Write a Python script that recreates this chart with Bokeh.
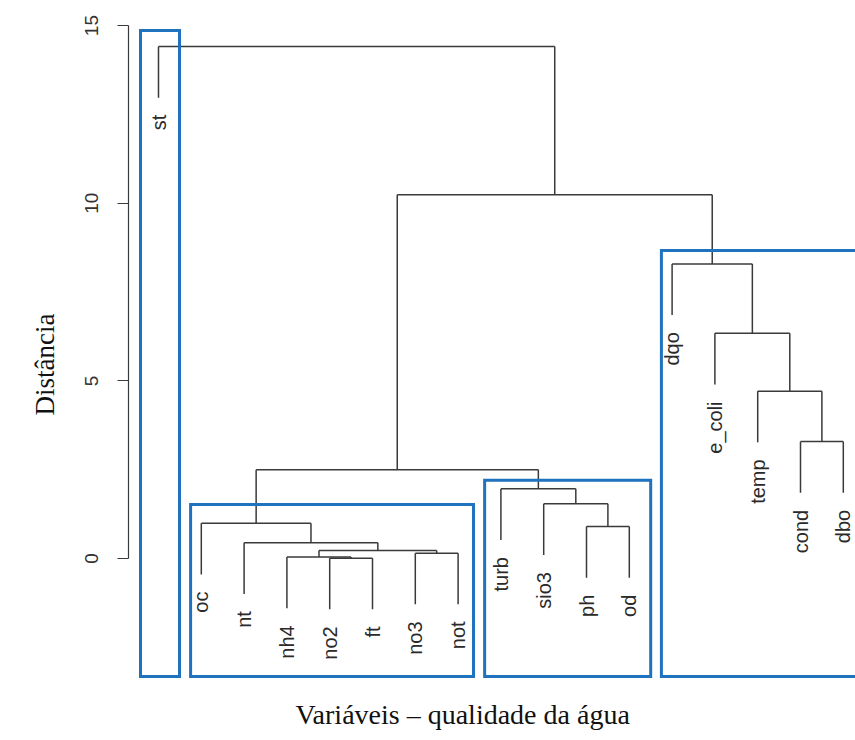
import math
from bokeh.plotting import figure
from bokeh.models import Range1d, LinearAxis, FixedTicker, Title, ColumnDataSource
from bokeh.core.properties import value
from bokeh.embed import file_html
from bokeh.resources import INLINE

# Leaves of the dendrogram, in plotting order
labels = ["st", "oc", "nt", "nh4", "no2", "ft", "no3", "not",
          "turb", "sio3", "ph", "od",
          "dqo", "e_coli", "temp", "cond", "dbo"]

# Agglomeration steps (hclust style): negative = leaf (1-based), positive = earlier step
merge_a = [-5, -4, -7, 2, -3, -11, -2, -10, -9, 7, -16, -15, -14, -13, 10, -1]
merge_b = [-6, 1, -8, 3, 4, -12, 5, 6, 8, 9, -17, 11, 12, 13, 14, 15]
merge_height = [0.01, 0.04, 0.15, 0.225, 0.44, 0.90, 0.99, 1.54, 1.96, 2.50,
                3.29, 4.71, 6.34, 8.29, 10.24, 14.41]

# Highlighted groups: box extents in leaf / distance units
group_left = [0.58, 1.75, 8.62, 12.75]
group_right = [1.49, 8.36, 12.50, 17.60]
group_top = [14.86, 1.52, 2.20, 8.67]
group_bottom = -3.32

y_ticks = [0, 5, 10, 15]

LINE = "#3a3a3a"
BLUE = "#1f72bd"

hang = 0.1 * (max(merge_height) - min(merge_height))

node_x = {}
xs0, ys0, xs1, ys1 = [], [], [], []
leaf_end = {}

def child_pos(c, h):
    if c < 0:
        leaf_end[-c] = h - hang
        return float(-c), h - hang
    return node_x[c], merge_height[c - 1]

for i, (a, b, h) in enumerate(zip(merge_a, merge_b, merge_height), start=1):
    xa, ya = child_pos(a, h)
    xb, yb = child_pos(b, h)
    xs0 += [xa, xb, xa]
    ys0 += [ya, yb, h]
    xs1 += [xa, xb, xb]
    ys1 += [h, h, h]
    node_x[i] = (xa + xb) / 2

seg = ColumnDataSource(dict(x0=xs0, y0=ys0, x1=xs1, y1=ys1))

lab_x = list(range(1, len(labels) + 1))
lab_y = [leaf_end[i] - 0.48 for i in lab_x]
lab = ColumnDataSource(dict(x=lab_x, y=lab_y, text=labels))

p = figure(width=855, height=740, output_backend="svg", toolbar_location=None,
           x_range=Range1d(0.299, 17.285), y_range=Range1d(-3.6025, 15.705),
           x_axis_location=None, y_axis_location=None,
           min_border_left=128, min_border_right=0, min_border_top=0,
           min_border_bottom=54)
p.grid.visible = False
p.outline_line_color = None
p.background_fill_color = "white"
p.border_fill_color = "white"

ax = LinearAxis(ticker=FixedTicker(ticks=y_ticks), bounds=(0, 15))
ax.axis_line_color = LINE
ax.axis_line_width = 1.2
ax.major_tick_line_color = LINE
ax.major_tick_line_width = 1.2
ax.major_tick_out = 11
ax.major_tick_in = 0
ax.minor_tick_line_color = None
ax.major_label_orientation = "vertical"
ax.major_label_standoff = 19
ax.major_label_text_font = "Liberation Sans"
ax.major_label_text_font_size = "19px"
ax.major_label_text_color = "#333333"
p.add_layout(ax, "left")

p.add_layout(Title(text="Distância", align="left", offset=271, standoff=46,
                   text_font="Liberation Serif", text_font_size="27px",
                   text_font_style="normal", text_color="#111111"), "left")
p.add_layout(Title(text="Variáveis – qualidade da água", align="left", offset=167,
                   standoff=20, text_font="Liberation Serif", text_font_size="28px",
                   text_font_style="normal", text_color="#111111"), "below")

p.segment("x0", "y0", "x1", "y1", source=seg, line_color=LINE, line_width=1.5)

p.text("x", "y", text="text", source=lab, angle=math.pi / 2,
       text_align="right", text_baseline="middle",
       text_font=value("Liberation Sans"), text_font_size="20px",
       text_color="#2a2a2a")

p.quad(left=group_left, right=group_right, top=group_top, bottom=group_bottom,
       fill_color=None, line_color=BLUE, line_width=3, line_join="miter")

open("out.html", "w").write(file_html(p, INLINE))
